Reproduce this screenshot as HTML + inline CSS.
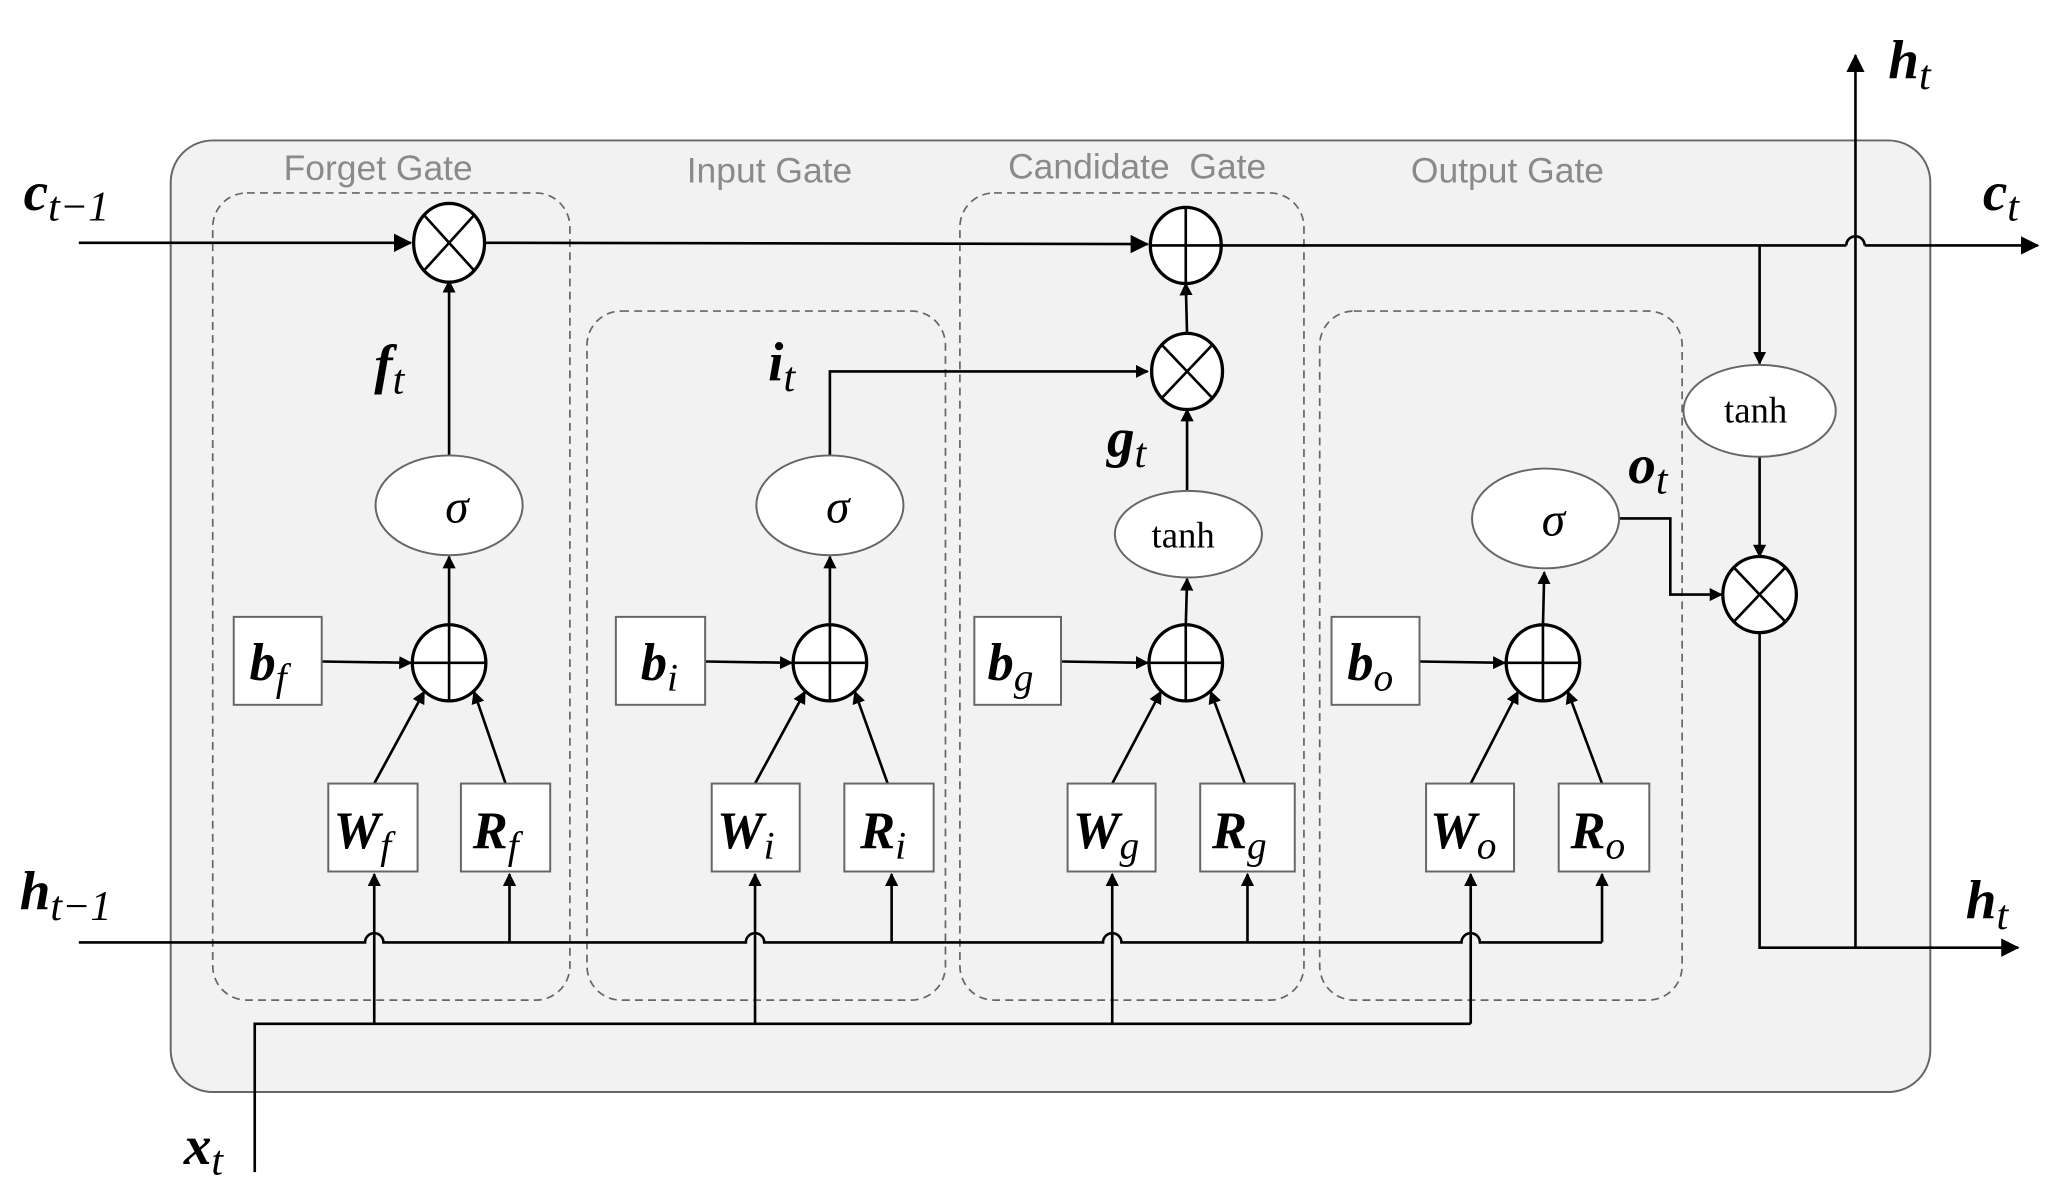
<!DOCTYPE html>
<html><head><meta charset="utf-8"><style>
html,body{margin:0;padding:0;background:#fff;}
svg{display:block;}
.lbl{font-family:"Liberation Sans",sans-serif;fill:#8a8a8a;font-size:27px;}
.m{font-family:"Liberation Serif",serif;font-style:italic;font-weight:bold;fill:#000;}
.s{font-family:"Liberation Serif",serif;font-style:italic;font-weight:normal;}
.t{font-family:"Liberation Serif",serif;fill:#000;font-size:28px;}
.sig{font-family:"Liberation Serif",serif;font-style:italic;fill:#000;font-size:36px;}
</style></head><body>
<svg width="2059" height="1197" viewBox="0 0 1568 912" preserveAspectRatio="none" xmlns="http://www.w3.org/2000/svg">
<defs>
<marker id="a" markerWidth="10" markerHeight="10" refX="9" refY="5" orient="auto" markerUnits="userSpaceOnUse" viewBox="0 0 10 10"><path d="M0,0 L10,5 L0,10 z" fill="#000"/></marker>
<marker id="b" markerWidth="14" markerHeight="14" refX="13" refY="7" orient="auto" markerUnits="userSpaceOnUse" viewBox="0 0 14 14"><path d="M0,0 L14,7 L0,14 z" fill="#000"/></marker>
</defs>
<rect x="130" y="107" width="1340" height="725" rx="32" fill="#f2f2f2" stroke="#666" stroke-width="1.5"/>
<g fill="none" stroke="#666" stroke-width="1.3" stroke-dasharray="6,4">
<rect x="162" y="147" width="272" height="615" rx="26"/>
<rect x="447" y="237" width="273" height="525" rx="26"/>
<rect x="731" y="147" width="262" height="615" rx="26"/>
<rect x="1005" y="237" width="276" height="525" rx="26"/>
</g>
<text class="lbl" x="288" y="137" text-anchor="middle">Forget Gate</text>
<text class="lbl" x="586" y="139" text-anchor="middle">Input Gate</text>
<text class="lbl" x="866" y="136" text-anchor="middle" xml:space="preserve">Candidate  Gate</text>
<text class="lbl" x="1148" y="139" text-anchor="middle">Output Gate</text>

<g stroke="#000" stroke-width="2" fill="none">
<line x1="60" y1="185" x2="313" y2="185" marker-end="url(#b)"/>
<line x1="370" y1="185" x2="874" y2="186" marker-end="url(#b)"/>
<line x1="931" y1="187" x2="1406" y2="187"/>
<path d="M1406,187 a7,7 0 0 1 14,0"/>
<line x1="1420" y1="187" x2="1552" y2="187" marker-end="url(#b)"/>
<line x1="1413" y1="722" x2="1413" y2="42" marker-end="url(#b)"/>
<line x1="342" y1="347" x2="342" y2="214" marker-end="url(#a)"/>
<line x1="342" y1="477" x2="342" y2="424" marker-end="url(#a)"/>
<line x1="245" y1="504" x2="313" y2="505" marker-end="url(#a)"/>
<line x1="285" y1="597" x2="323" y2="527" marker-end="url(#a)"/>
<line x1="385" y1="597" x2="361" y2="527" marker-end="url(#a)"/>
<polyline points="632,347 632,283 874,283" marker-end="url(#a)"/>
<line x1="632" y1="477" x2="632" y2="424" marker-end="url(#a)"/>
<line x1="537" y1="504" x2="603" y2="505" marker-end="url(#a)"/>
<line x1="575" y1="597" x2="613" y2="527" marker-end="url(#a)"/>
<line x1="676" y1="597" x2="651" y2="527" marker-end="url(#a)"/>
<line x1="904" y1="255" x2="903" y2="216" marker-end="url(#a)"/>
<line x1="904" y1="374" x2="904" y2="312" marker-end="url(#a)"/>
<line x1="903" y1="477" x2="904" y2="441" marker-end="url(#a)"/>
<line x1="808" y1="504" x2="874" y2="505" marker-end="url(#a)"/>
<line x1="847" y1="597" x2="884" y2="527" marker-end="url(#a)"/>
<line x1="948" y1="597" x2="922" y2="527" marker-end="url(#a)"/>
<line x1="1175" y1="477" x2="1176" y2="436" marker-end="url(#a)"/>
<line x1="1081" y1="504" x2="1146" y2="505" marker-end="url(#a)"/>
<line x1="1120" y1="597" x2="1156" y2="527" marker-end="url(#a)"/>
<line x1="1220" y1="597" x2="1194" y2="527" marker-end="url(#a)"/>
<polyline points="1233,395 1272,395 1272,453 1311,453" marker-end="url(#a)"/>
<line x1="1340" y1="187" x2="1340" y2="277" marker-end="url(#a)"/>
<line x1="1340" y1="348" x2="1340" y2="424" marker-end="url(#a)"/>
<polyline points="1340,481 1340,722 1537,722" marker-end="url(#b)"/>
<path d="M60,718 H278 a7,7 0 0 1 14,0 H568 a7,7 0 0 1 14,0 H840 a7,7 0 0 1 14,0 H1113 a7,7 0 0 1 14,0 H1220"/>
<line x1="388" y1="718" x2="388" y2="666" marker-end="url(#a)"/>
<line x1="679" y1="718" x2="679" y2="666" marker-end="url(#a)"/>
<line x1="950" y1="718" x2="950" y2="666" marker-end="url(#a)"/>
<line x1="1220" y1="718" x2="1220" y2="666" marker-end="url(#a)"/>
<polyline points="194,893 194,780 1120,780"/>
<line x1="285" y1="780" x2="285" y2="666" marker-end="url(#a)"/>
<line x1="575" y1="780" x2="575" y2="666" marker-end="url(#a)"/>
<line x1="847" y1="780" x2="847" y2="666" marker-end="url(#a)"/>
<line x1="1120" y1="780" x2="1120" y2="666" marker-end="url(#a)"/>
</g>

<g stroke="#000" stroke-width="2.5" fill="#fff">
<ellipse cx="342" cy="185" rx="27" ry="30"/>
<ellipse cx="903" cy="187" rx="27" ry="29"/>
<ellipse cx="904" cy="283" rx="27" ry="29"/>
<ellipse cx="1340" cy="453" rx="28" ry="29"/>
<ellipse cx="342" cy="505" rx="28" ry="29"/>
<ellipse cx="632" cy="505" rx="28" ry="29"/>
<ellipse cx="903" cy="505" rx="28" ry="29"/>
<ellipse cx="1175" cy="505" rx="28" ry="29"/>
</g>
<g stroke="#000" stroke-width="2">
<path d="M323,164 L361,206 M361,164 L323,206"/>
<path d="M885,263 L923,303 M923,263 L885,303"/>
<path d="M1321,433 L1359,473 M1359,433 L1321,473"/>
<path d="M876,187 H930 M903,158 V216"/>
<path d="M314,505 H370 M342,476 V534"/>
<path d="M604,505 H660 M632,476 V534"/>
<path d="M875,505 H931 M903,476 V534"/>
<path d="M1147,505 H1203 M1175,476 V534"/>
</g>
<g stroke="#666" stroke-width="1.5" fill="#fff">
<ellipse cx="342" cy="385" rx="56" ry="38"/>
<ellipse cx="632" cy="385" rx="56" ry="38"/>
<ellipse cx="905" cy="407" rx="56" ry="33"/>
<ellipse cx="1177" cy="395" rx="56" ry="38"/>
<ellipse cx="1340" cy="313" rx="58" ry="35"/>
</g>
<text class="sig" x="348" y="398" text-anchor="middle">σ</text>
<text class="sig" x="638" y="398" text-anchor="middle">σ</text>
<text class="sig" x="1183" y="408" text-anchor="middle">σ</text>
<text class="t" x="901" y="417" text-anchor="middle">tanh</text>
<text class="t" x="1337" y="322" text-anchor="middle">tanh</text>

<g stroke="#666" stroke-width="1.5" fill="#fff">
<rect x="178" y="470" width="67" height="67"/>
<rect x="469" y="470" width="68" height="67"/>
<rect x="742" y="470" width="66" height="67"/>
<rect x="1014" y="470" width="67" height="67"/>
<rect x="250" y="597" width="68" height="67"/>
<rect x="351" y="597" width="68" height="67"/>
<rect x="542" y="597" width="67" height="67"/>
<rect x="643" y="597" width="68" height="67"/>
<rect x="813" y="597" width="67" height="67"/>
<rect x="914" y="597" width="72" height="67"/>
<rect x="1086" y="597" width="67" height="67"/>
<rect x="1187" y="597" width="69" height="67"/>
</g>
<g class="m" font-size="40">
<text x="190" y="518">b<tspan class="s" font-size="30" dy="8">f</tspan></text>
<text x="488" y="518">b<tspan class="s" font-size="30" dy="8">i</tspan></text>
<text x="752" y="518">b<tspan class="s" font-size="30" dy="8">g</tspan></text>
<text x="1026" y="518">b<tspan class="s" font-size="30" dy="8">o</tspan></text>
<text x="254" y="646">W<tspan class="s" font-size="30" dy="8">f</tspan></text>
<text x="360" y="646">R<tspan class="s" font-size="30" dy="8">f</tspan></text>
<text x="546" y="646">W<tspan class="s" font-size="30" dy="8">i</tspan></text>
<text x="655" y="646">R<tspan class="s" font-size="30" dy="8">i</tspan></text>
<text x="817" y="646">W<tspan class="s" font-size="30" dy="8">g</tspan></text>
<text x="923" y="646">R<tspan class="s" font-size="30" dy="8">g</tspan></text>
<text x="1089" y="646">W<tspan class="s" font-size="30" dy="8">o</tspan></text>
<text x="1196" y="646">R<tspan class="s" font-size="30" dy="8">o</tspan></text>
</g>
<g class="m" font-size="42">
<text x="18" y="160">c<tspan class="s" font-size="32" dy="8">t−1</tspan></text>
<text x="1510" y="160">c<tspan class="s" font-size="32" dy="8">t</tspan></text>
<text x="1438" y="60">h<tspan class="s" font-size="32" dy="8">t</tspan></text>
<text x="15" y="693">h<tspan class="s" font-size="32" dy="8">t−1</tspan></text>
<text x="1497" y="700">h<tspan class="s" font-size="32" dy="8">t</tspan></text>
<text x="140" y="887">x<tspan class="s" font-size="32" dy="8">t</tspan></text>
<text x="285" y="292">f<tspan class="s" font-size="32" dy="8">t</tspan></text>
<text x="585" y="290">i<tspan class="s" font-size="32" dy="8">t</tspan></text>
<text x="843" y="348">g<tspan class="s" font-size="32" dy="8">t</tspan></text>
<text x="1240" y="368">o<tspan class="s" font-size="32" dy="8">t</tspan></text>
</g>
</svg>
</body></html>
